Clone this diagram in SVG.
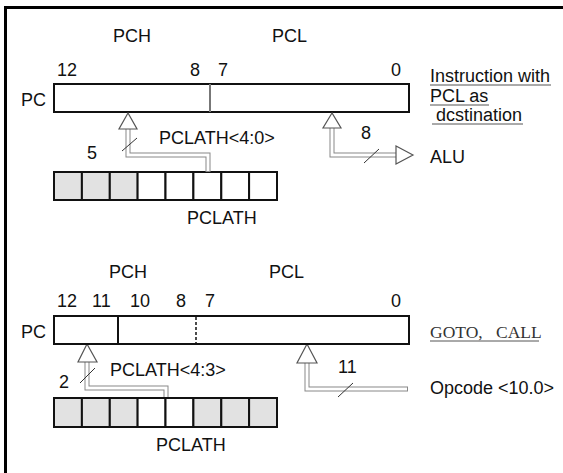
<svg xmlns="http://www.w3.org/2000/svg" width="563" height="473" viewBox="0 0 563 473">
<style>
text{font-family:"Liberation Sans",Arial,sans-serif;font-size:18px;fill:#111}
.mono{font-family:"Liberation Serif","Times New Roman",serif;font-size:17.5px;fill:#333}
.box{fill:#fff;stroke:#111;stroke-width:2}
.cellg{fill:#e2e2e2;stroke:#111;stroke-width:2}
.cellw{fill:#fff;stroke:#111;stroke-width:2}
.bus-o{fill:none;stroke:#888;stroke-width:5}
.bus-i{fill:none;stroke:#fff;stroke-width:3}
.head{fill:#fff;stroke:#555;stroke-width:1.2}
.slash{stroke:#333;stroke-width:1}
.ul{stroke:#555;stroke-width:1}
</style>
<rect width="563" height="473" fill="#fff"/>
<path d="M5.5,473 V7.5 H563" fill="none" stroke="#000" stroke-width="3"/>

<g id="top-labels">
<text x="113" y="42">PCH</text>
<text x="272" y="42">PCL</text>
<text x="57" y="76">12</text>
<text x="190" y="76">8</text>
<text x="218" y="76">7</text>
<text x="391" y="76">0</text>
<text x="21" y="106">PC</text>
</g>
<g id="pc-top">
<rect class="box" x="54" y="84" width="355" height="28"/>
<line x1="210" y1="84" x2="210" y2="112" stroke="#777" stroke-width="2"/>
</g>
<g id="pclath-top">
<rect class="cellg" x="54" y="172" width="27.9" height="28"/>
<rect class="cellg" x="81.9" y="172" width="27.9" height="28"/>
<rect class="cellg" x="109.8" y="172" width="27.9" height="28"/>
<rect class="cellw" x="137.6" y="172" width="27.9" height="28"/>
<rect class="cellw" x="165.5" y="172" width="27.9" height="28"/>
<rect class="cellw" x="193.4" y="172" width="27.9" height="28"/>
<rect class="cellw" x="221.3" y="172" width="27.9" height="28"/>
<rect class="cellw" x="249.1" y="172" width="27.9" height="28"/>
<text x="187" y="224">PCLATH</text>
</g>
<g id="note-top">
<text x="430" y="82">Instruction with</text>
<line class="ul" x1="430" y1="85" x2="551" y2="85"/>
<text x="430" y="102">PCL as</text>
<line class="ul" x1="430" y1="105" x2="489" y2="105"/>
<text x="436" y="121">dcstination</text>
<line class="ul" x1="432" y1="124" x2="523" y2="124"/>
<text x="430" y="163">ALU</text>
</g>

<g id="connectors">
<!-- PCLATH<4:0> to PCH -->
<path class="bus-o" d="M128,128 V155 H208 V172"/>
<path class="bus-i" d="M128,128 V155 H208 V171"/>
<path class="head" d="M128,113 L119,129 L137,129 Z"/>
<line class="slash" x1="122" y1="151" x2="137" y2="138"/>
<text x="159" y="144">PCLATH&lt;4:0&gt;</text>
<text x="87" y="159">5</text>
<!-- PCL <-> ALU -->
<path class="bus-o" d="M332,128 V155 H397"/>
<path class="bus-i" d="M332,128 V155 H398"/>
<path class="head" d="M332,113 L323,128 L341,128 Z"/>
<path class="head" d="M413,155 L396,146 L396,164 Z"/>
<line class="slash" x1="364" y1="163" x2="379" y2="149"/>
<text x="361" y="139">8</text>
<!-- PCLATH<4:3> to PC<12:11> -->
<path class="bus-o" d="M87,362 V388 H166 V398"/>
<path class="bus-i" d="M87,362 V388 H166 V397"/>
<path class="head" d="M87,344 L78,362 L97,362 Z"/>
<line class="slash" x1="80" y1="383" x2="95" y2="368"/>
<text x="110" y="376">PCLATH&lt;4:3&gt;</text>
<text x="59" y="388">2</text>
<!-- Opcode to PC<10:0> -->
<path class="bus-o" d="M307,363 V389 H408"/>
<path class="bus-i" d="M307,363 V389 H407"/>
<path class="head" d="M307,344 L297,363 L317,363 Z"/>
<line class="slash" x1="338" y1="397" x2="353" y2="383"/>
<text x="338" y="373">11</text>
</g>

<g id="bottom-labels">
<text x="109" y="278">PCH</text>
<text x="269" y="278">PCL</text>
<text x="57" y="307">12</text>
<text x="92" y="307">11</text>
<text x="130" y="307">10</text>
<text x="176" y="307">8</text>
<text x="205" y="307">7</text>
<text x="391" y="307">0</text>
<text x="21" y="338">PC</text>
</g>
<g id="pc-bottom">
<rect class="box" x="54" y="316" width="355" height="28"/>
<line x1="118" y1="316" x2="118" y2="344" stroke="#111" stroke-width="2"/>
<line x1="196" y1="317" x2="196" y2="343" stroke="#111" stroke-width="1.5" stroke-dasharray="3,2"/>
</g>
<g id="pclath-bottom">
<rect class="cellg" x="54" y="398" width="27.9" height="29"/>
<rect class="cellg" x="81.9" y="398" width="27.9" height="29"/>
<rect class="cellg" x="109.8" y="398" width="27.9" height="29"/>
<rect class="cellw" x="137.6" y="398" width="27.9" height="29"/>
<rect class="cellw" x="165.5" y="398" width="27.9" height="29"/>
<rect class="cellg" x="193.4" y="398" width="27.9" height="29"/>
<rect class="cellg" x="221.3" y="398" width="27.9" height="29"/>
<rect class="cellg" x="249.1" y="398" width="27.9" height="29"/>
<text x="156" y="451">PCLATH</text>
</g>
<g id="note-bottom">
<text class="mono" x="430" y="338">GOTO,<tspan x="496">CALL</tspan></text>
<line class="ul" x1="430" y1="341" x2="539" y2="341"/>
<text x="430" y="394">Opcode &lt;10.0&gt;</text>
</g>
</svg>
